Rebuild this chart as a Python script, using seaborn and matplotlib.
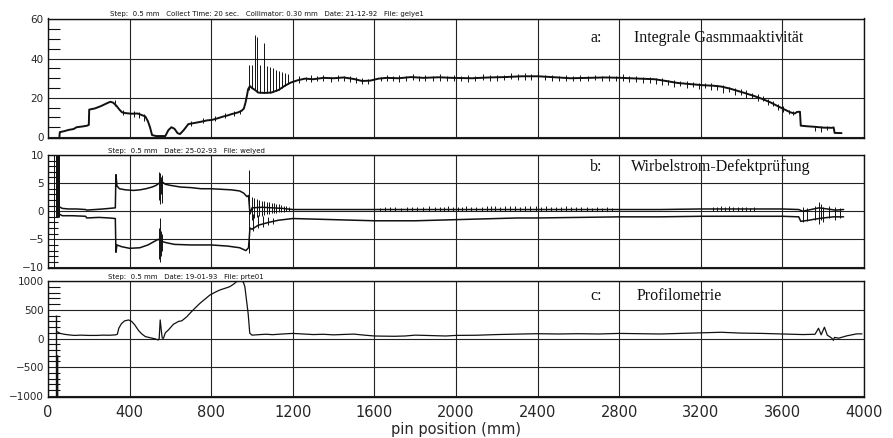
import matplotlib
matplotlib.use("Agg")
import matplotlib.pyplot as plt
import matplotlib.transforms as mtrans
from matplotlib.ticker import MultipleLocator
import numpy as np
import pandas as pd
import seaborn as sns

# ---------------- data ----------------
X_TICKS = [0, 400, 800, 1200, 1600, 2000, 2400, 2800, 3200, 3600, 4000]

# panel a: Integrale Gasmmaaktivität
A_X = [56, 58, 80, 100, 126, 140, 170, 192, 200, 202, 230, 260, 290, 306, 320, 335, 350, 363, 380,
       410, 440, 460, 477, 490, 500, 510, 530, 575, 590, 605, 620, 635, 647, 665, 688, 720, 750, 780,
       802, 830, 860, 880, 900, 930, 949, 960, 968, 975, 981, 990, 1000, 1015, 1030, 1060, 1095, 1130,
       1160, 1190, 1225, 1260, 1300, 1350, 1400, 1450, 1500, 1540, 1580, 1620, 1660, 1720, 1780, 1840,
       1916, 1980, 2078, 2160, 2241, 2320, 2403, 2500, 2560, 2647, 2730, 2810, 2900, 2973, 3030, 3086,
       3150, 3217, 3260, 3298, 3340, 3379, 3420, 3460, 3500, 3541, 3590, 3639, 3660, 3672, 3686, 3690,
       3720, 3760, 3800, 3842, 3851, 3856, 3890]
A_Y = [0.2, 2.5, 3.0, 3.6, 4.1, 5.0, 5.4, 5.8, 6.2, 14.0, 14.6, 15.8, 17.3, 18.0, 17.5, 16.0, 14.0, 12.6, 12.2,
       11.9, 12.0, 11.2, 10.5, 8.0, 5.0, 1.0, 0.5, 0.5, 3.5, 5.0, 4.2, 2.0, 1.5, 3.5, 6.6, 7.2, 7.8, 8.5,
       8.7, 9.5, 10.5, 11.0, 11.7, 12.5, 13.4, 14.5, 17.5, 21.0, 24.4, 26.0, 25.0, 24.0, 22.7, 22.5, 22.7, 24.0,
       26.1, 27.8, 29.0, 29.8, 29.5, 30.2, 30.0, 30.4, 29.6, 28.6, 28.8, 29.8, 30.2, 30.0, 30.6, 30.2,
       30.5, 30.2, 30.0, 30.4, 30.6, 31.0, 31.0, 30.4, 30.0, 30.2, 30.4, 30.2, 29.8, 29.5, 28.6, 27.6,
       27.0, 26.4, 26.2, 25.8, 24.8, 23.6, 22.3, 21.0, 19.5, 17.7, 15.1, 12.6, 12.0, 12.8, 12.9, 5.8,
       5.5, 5.2, 4.8, 4.7, 4.9, 2.1, 2.0]
# spikes / noise in panel a: position, low, high
A_SPK_X = [984, 1000, 1015, 1025, 1040, 1058, 1072, 1088, 1103, 1118, 1133, 1148, 1163, 1178,
           330, 370, 420, 445, 470, 700, 760, 820, 870, 910, 940,
           1230, 1290, 1350, 1420, 1480, 1540, 1600, 1660, 1720, 1790, 1850, 1920, 1990, 2060, 2130,
           2200, 2270, 2340, 2400, 2470, 2540, 2610, 2680, 2750, 2820, 2880, 2950, 3010, 3070, 3130,
           3190, 3250, 3310, 3370, 3420, 3480, 3530, 3580, 3630, 3760, 3790, 3820,
           1265, 1320, 1385, 1450, 1510, 1570, 1630, 1690, 1755, 1820, 1885, 1955, 2025, 2095, 2165,
           2235, 2305, 2370, 2435, 2505, 2575, 2645, 2715, 2785, 2850, 2915, 2980, 3040, 3100, 3160,
           3220, 3280, 3340, 3395, 3450, 3505, 3555, 3605, 3650]
A_SPK_LO = [24, 25, 24, 23.5, 22.7, 22.5, 22.5, 22.6, 23, 23.5, 24, 25, 26, 27,
            16, 11, 10, 9.5, 8, 5.5, 7, 8, 9.5, 10.5, 11.5,
            27.5, 28, 28.8, 28.5, 28, 27, 28, 28.5, 28.2, 29, 28.5, 28.8, 28.5, 28, 29,
            28.5, 29.5, 29, 29.5, 28.5, 28.8, 28.5, 29, 28.5, 28.5, 28, 27.5, 26.5, 25.5, 25,
            24.5, 24, 22.5, 21.5, 20, 18.5, 16.5, 14, 11.5, 3.2, 2.8, 3.5,
            28.5, 28.8, 28.2, 28.5, 27.8, 27.2, 28.4, 28.6, 28.8, 28.8, 28.6, 28.7, 28.4, 28.8, 28.6,
            29, 29.2, 29.2, 29, 28.8, 28.6, 28.8, 28.6, 28.6, 28.2, 27.8, 27.2, 26.4, 25.8, 25.4,
            24.8, 24, 22.8, 21.6, 19.8, 18.2, 15.6, 13, 11]
A_SPK_HI = [37, 37, 52, 51, 37, 48, 36, 35.5, 35, 34, 33.5, 33, 32.5, 32,
            19, 14, 13.5, 13, 12, 8, 9.5, 10.5, 12.5, 13.5, 14,
            31, 31.5, 31.5, 31.5, 31, 30, 31, 31.5, 31.5, 32, 31.5, 32, 31.5, 31.5, 32,
            31.8, 32.5, 32.5, 33, 31.5, 31.5, 31.5, 31.8, 31.5, 32, 31, 30.5, 30, 29, 28.5,
            27.8, 27.5, 26.5, 25, 23.8, 22, 19.5, 17, 14, 5.8, 5.4, 5.5,
            30.8, 31, 30.8, 31.2, 30.4, 29.8, 30.6, 31, 31.2, 31, 31.4, 31, 31, 31.2, 31.6,
            31.8, 32, 32.2, 31.6, 31.2, 31, 31.4, 31.2, 31.4, 31, 30.4, 30, 29.2, 28.4, 28,
            27.4, 26.8, 25.6, 24.4, 22.6, 21, 18.4, 16, 13.5]

# panel b: Wirbelstrom-Defektprüfung (two traces)
BU_X = [55, 70, 100, 140, 184, 190, 230, 270, 300, 330, 333, 338, 350, 380, 420, 450, 480, 510, 530,
        545, 560, 575, 600, 650, 700, 750, 800, 850, 900, 940, 960, 975, 983, 990, 1000, 1050, 1100,
        1150, 1200, 1400, 1600, 1800, 2000, 2200, 2400, 2600, 2800, 3000, 3200, 3400, 3600, 3680,
        3700, 3740, 3780, 3820, 3860, 3900]
BU_Y = [0.8, 0.5, 0.4, 0.4, 0.3, 0.2, 0.3, 0.4, 0.5, 0.6, 6.5, 4.5, 4.0, 3.8, 3.7, 3.8, 4.0, 4.3, 4.6,
        5.0, 5.2, 4.8, 4.6, 4.3, 4.2, 4.0, 4.0, 3.9, 3.8, 3.6, 3.2, 2.6, 2.8, -0.5, 0.6, 0.7, 0.6,
        0.5, 0.3, 0.3, 0.3, 0.3, 0.3, 0.3, 0.3, 0.3, 0.3, 0.3, 0.4, 0.4, 0.4, 0.3,
        0.0, 0.3, 0.6, 0.4, 0.2, 0.3]
BL_X = [55, 70, 120, 184, 190, 250, 300, 330, 333, 338, 360, 400, 450, 490, 520, 540, 560, 580, 620,
        700, 800, 880, 940, 970, 983, 990, 1000, 1030, 1080, 1130, 1200, 1300, 1400, 1500, 1600, 1700,
        1800, 1900, 2000, 2100, 2200, 2300, 2400, 2600, 2800, 3000, 3200, 3400, 3600, 3680, 3690,
        3730, 3760, 3800, 3850, 3900]
BL_Y = [-0.5, -0.8, -0.8, -0.9, -1.2, -1.1, -1.2, -1.3, -7.3, -6.0, -6.3, -6.6, -6.5, -6.0, -5.4, -5.0,
        -5.4, -5.6, -5.9, -6.0, -6.0, -6.2, -6.5, -7.0, -6.5, -3.0, -3.2, -2.5, -2.0, -1.6, -1.3, -1.4,
        -1.5, -1.6, -1.7, -1.7, -1.7, -1.6, -1.5, -1.4, -1.3, -1.2, -1.2, -1.1, -1.0, -1.0, -0.9, -0.9,
        -0.9, -1.0, -1.8, -1.6, -1.4, -1.2, -1.0, -1.0]
B_SPK_X = [30, 38, 40, 42, 44, 46, 48, 50, 52, 54,
           545, 550, 555, 560, 546, 551, 556, 561, 985,
           1000, 1012, 1024, 1036, 1048, 1060, 1072, 1084, 1096, 1108, 1120, 1132, 1144, 1156, 1168, 1180,
           1005, 1030, 1055, 1080, 1105,
           1650, 1700, 1760, 1810, 1870, 1920, 1960, 2010, 2050, 2100, 2150, 2190, 2240, 2290, 2340,
           2390, 2440, 2490, 2540, 2590, 2640, 2690, 2740, 3260, 3300, 3340, 3380, 3420, 3460,
           3700, 3720, 3760, 3780, 3790, 3800, 3830, 3860, 3880,
           1625, 1675, 1730, 1785, 1840, 1895, 1940, 1985, 2030, 2075, 2125, 2170, 2215, 2265, 2315,
           2365, 2415, 2465, 2515, 2565, 2615, 2665, 2715, 2765, 3280, 3320, 3360, 3400, 3440]
B_SPK_LO = [-10, -1, -1, -1, -1, -1, -1, -1, -1, -1,
            2, 1.3, 3, 1.5, -8.5, -9, -8, -7, -7.5,
            -1.5, -1.2, -1.0, -0.8, -0.8, -0.6, -0.5, -0.5, -0.4, -0.3, -0.3, -0.2, -0.2, -0.1, 0.0, 0.0,
            -3.5, -3.0, -2.8, -2.5, -2.2,
            0.1, 0.1, 0.1, 0.1, 0.1, 0.1, 0.1, 0.1, 0.1, 0.1, 0.1, 0.1, 0.1, 0.1, 0.1,
            0.1, 0.1, 0.1, 0.1, 0.1, 0.1, 0.1, 0.1, 0.1, 0.1, 0.1, 0.1, 0.1, 0.1,
            -2.0, -1.8, -1.5, -2.2, -1.5, -2.0, -1.2, -1.5, -1.2,
            0.1, 0.1, 0.1, 0.1, 0.1, 0.1, 0.1, 0.1, 0.1, 0.1, 0.1, 0.1, 0.1, 0.1, 0.1,
            0.1, 0.1, 0.1, 0.1, 0.1, 0.1, 0.1, 0.1, 0.1, 0.1, 0.1, 0.1, 0.1, 0.1]
B_SPK_HI = [10, 10, 10, 10, 10, 10, 10, 10, 10, 10,
            7, 6.8, 6, 6.5, -3, -1.2, -3.5, -4, 7.3,
            2.5, 2.3, 2.2, 2.0, 1.9, 1.8, 1.7, 1.6, 1.5, 1.4, 1.3, 1.2, 1.1, 1.0, 0.9, 0.8,
            -0.5, -0.6, -0.8, -1.0, -1.2,
            0.7, 0.8, 0.7, 0.8, 0.9, 0.8, 0.9, 0.8, 0.9, 0.8, 0.9, 1.0, 0.9, 1.0, 0.9,
            1.0, 0.9, 0.8, 0.9, 0.8, 0.8, 0.7, 0.7, 0.8, 0.9, 0.9, 0.8, 0.8, 0.7,
            0.8, 0.5, 1.0, 1.6, 1.2, 0.8, 0.9, 0.8, 0.6,
            0.6, 0.7, 0.6, 0.7, 0.8, 0.7, 0.8, 0.7, 0.8, 0.7, 0.8, 0.9, 0.8, 0.9, 0.8,
            0.9, 0.8, 0.7, 0.8, 0.7, 0.7, 0.6, 0.6, 0.6, 0.8, 0.8, 0.7, 0.7, 0.6]

# panel c: Profilometrie
C_X = [45, 60, 80, 100, 130, 160, 200, 240, 270, 300, 330, 340, 347, 360, 375, 395, 410, 425, 444,
       460, 477, 500, 525, 540, 545, 550, 556, 560, 566, 575, 590, 615, 640, 656, 680, 696, 720, 745,
       770, 794, 820, 842, 870, 891, 910, 924, 940, 950, 958, 965, 972, 981, 989, 1000, 1040, 1070,
       1100, 1150, 1200, 1250, 1300, 1350, 1400, 1450, 1500, 1550, 1600, 1650, 1700, 1750, 1800, 1850,
       1900, 1950, 2000, 2100, 2200, 2300, 2400, 2500, 2600, 2700, 2800, 2900, 3000, 3100, 3200, 3300,
       3400, 3500, 3600, 3700, 3760, 3777, 3790, 3806, 3820, 3842, 3850, 3855, 3876, 3915, 3964, 3990]
C_Y = [120, 90, 75, 65, 55, 60, 55, 55, 60, 58, 64, 75, 180, 260, 308, 325, 300, 240, 140,
       80, 35, 15, -5, -25, 0, 325, 120, 10, 5, 100, 150, 250, 300, 310, 380, 442, 530, 616,
       690, 761, 810, 848, 880, 906, 950, 993, 1003, 1008, 980, 906, 700, 442, 94, 60, 70, 76,
       68, 80, 90, 80, 70, 75, 65, 72, 78, 60, 45, 42, 40, 45, 60, 55,
       50, 45, 55, 58, 70, 78, 85, 80, 85, 80, 90, 85, 80, 90, 100, 110,
       95, 90, 80, 70, 75, 180, 66, 198, 60, 7, -30, 20, 7, 47, 82, 82]
C_SPK_X = [40, 42, 44]
C_SPK_LO = [-1020, -1020, -1020]
C_SPK_HI = [410, -280, -280]

# ---------------- figure ----------------
sns.set_style("white")
plt.rcParams["font.family"] = ["DejaVu Sans"]

fig = plt.figure(figsize=(8.93, 4.38), dpi=100)
L, W = 48 / 893, 816 / 893
axa = fig.add_axes([L, (438 - 138) / 438, W, 119.5 / 438])
axb = fig.add_axes([L, (438 - 268) / 438, W, 113 / 438])
axc = fig.add_axes([L, (438 - 397) / 438, W, 116 / 438])

ink = "#111111"

def draw(ax, xs, ys, lw):
    df = pd.DataFrame({"x": xs, "y": ys})
    sns.lineplot(data=df, x="x", y="y", ax=ax, color=ink, lw=lw, estimator=None, sort=False)

draw(axa, A_X, A_Y, 1.4)
axa.vlines(A_SPK_X, A_SPK_LO, A_SPK_HI, color=ink, lw=0.7)
draw(axb, BU_X, BU_Y, 1.1)
draw(axb, BL_X, BL_Y, 1.1)
axb.vlines(B_SPK_X, B_SPK_LO, B_SPK_HI, color=ink, lw=0.7)
draw(axc, C_X, C_Y, 0.9)
axc.vlines(C_SPK_X, C_SPK_LO, C_SPK_HI, color=ink, lw=1.0)

settings = [
    (axa, (-0.5, 60.5), [0, 20, 40, 60], 5),
    (axb, (-10.1, 10.0), [-10, -5, 0, 5, 10], 1),
    (axc, (-1020, 1005), [-1000, -500, 0, 500, 1000], 100),
]
for ax, ylim, yt, minor in settings:
    ax.set_xlim(0, 4000)
    ax.set_ylim(*ylim)
    ax.set_xticks(X_TICKS)
    ax.set_yticks(yt)
    ax.yaxis.set_minor_locator(MultipleLocator(minor))
    ax.grid(True, which="major", color="#222222", lw=0.8)
    ax.set_axisbelow(True)
    for s in ax.spines.values():
        s.set_color(ink)
        s.set_linewidth(1.0)
    ax.tick_params(axis="y", which="major", direction="in", length=0, labelsize=7.5, pad=3,
                   left=True)
    ax.tick_params(axis="y", which="minor", direction="in", length=8.5 if minor != 1 else 7,
                   width=0.8, color=ink, left=True)
    ax.tick_params(axis="x", which="major", length=0)
    ax.set_xlabel("")
    ax.set_ylabel("")

axa.tick_params(axis="x", labelbottom=False)
axb.tick_params(axis="x", labelbottom=False)
axc.tick_params(axis="x", labelsize=10.5, pad=6)
axc.set_xlabel("pin position (mm)", fontsize=10.5, labelpad=1)

# small header lines above each panel
hdr = [
    (axa, 306, "Step:  0.5 mm   Collect Time: 20 sec.   Collimator: 0.30 mm   Date: 21-12-92   File: gelye1"),
    (axb, 296, "Step:  0.5 mm   Date: 25-02-93   File: welyed"),
    (axc, 296, "Step:  0.5 mm   Date: 19-01-93   File: prte01"),
]
for ax, x0, t in hdr:
    tr = mtrans.blended_transform_factory(ax.transData, ax.transAxes)
    ax.text(x0, 1.01, t, transform=tr, fontsize=5.0, ha="left", va="bottom", color=ink)

# panel titles
serif = ["Liberation Serif", "DejaVu Serif"]
titles = [
    (axa, 50.3, "a:", 2875, "Integrale Gasmmaaktivität"),
    (axb, 7.9, "b:", 2856, "Wirbelstrom-Defektprüfung"),
    (axc, 735, "c:", 2886, "Profilometrie"),
]
for ax, yv, lab, xt, t in titles:
    ax.text(2657, yv, lab, fontsize=11.5, family=serif, ha="left", va="center", color=ink)
    ax.text(xt, yv, t, fontsize=11.5, family=serif, ha="left", va="center", color=ink)

fig.savefig("out.png", dpi=100, facecolor="white")
